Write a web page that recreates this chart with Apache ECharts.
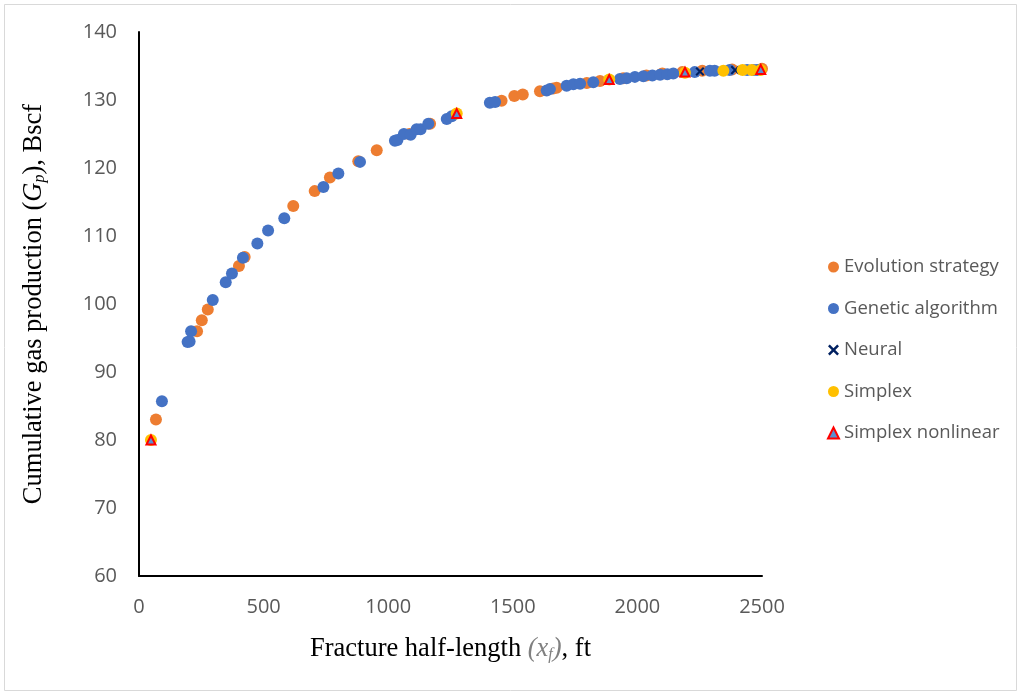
<!DOCTYPE html>
<html>
<head>
<meta charset="utf-8">
<script src="https://cdn.jsdelivr.net/npm/echarts@6/dist/echarts.min.js"></script>
<style>
  html, body { margin: 0; padding: 0; background: #fff; }
  #chart { width: 1022px; height: 695px; }
</style>
</head>
<body>
<div id="chart"></div>
<script>
// Fracture half-length (ft) vs cumulative gas production (Bscf) per optimisation method
const xTicks = [0, 500, 1000, 1500, 2000, 2500];
const yTicks = [60, 70, 80, 90, 100, 110, 120, 130, 140];

const evolutionStrategy = [
  [68, 83.0], [233, 96.0], [252, 97.6], [276, 99.2], [401, 105.6], [424, 106.9],
  [619, 114.4], [705, 116.6], [766, 118.6], [880, 121.0], [954, 122.6], [1085, 125.0],
  [1168, 126.5], [1455, 129.9], [1506, 130.6], [1540, 130.8], [1609, 131.3], [1662, 131.7],
  [1676, 131.8], [1797, 132.5], [1850, 132.8], [1943, 133.2], [2036, 133.6], [2100, 133.9],
  [2180, 134.1], [2260, 134.3], [2380, 134.5], [2500, 134.6]
];
const geneticAlgorithm = [
  [92, 85.7], [195, 94.4], [203, 94.5], [209, 96.0], [296, 100.6], [348, 103.2],
  [373, 104.5], [417, 106.8], [475, 108.9], [518, 110.8], [583, 112.6], [740, 117.2],
  [800, 119.2], [887, 120.9], [1027, 124.0], [1037, 124.1], [1063, 125.0], [1090, 124.9],
  [1114, 125.7], [1130, 125.7], [1161, 126.5], [1235, 127.2], [1255, 127.6], [1408, 129.6],
  [1429, 129.7], [1636, 131.4], [1649, 131.6], [1716, 132.1], [1743, 132.3], [1770, 132.4],
  [1823, 132.6], [1930, 133.1], [1957, 133.2], [1990, 133.4], [2024, 133.5], [2060, 133.6],
  [2091, 133.7], [2120, 133.8], [2144, 133.9], [2230, 134.1], [2291, 134.3], [2310, 134.3],
  [2370, 134.4], [2440, 134.4], [2465, 134.4], [2480, 134.4]
];
const neural = [[2251, 134.2], [2392, 134.4]];
const simplex = [
  [48, 80.0], [1275, 128.0], [1887, 133.0], [2191, 134.0], [2345, 134.3],
  [2422, 134.4], [2459, 134.4], [2495, 134.4]
];
const simplexNonlinear = [[48, 80.0], [1275, 128.0], [1887, 133.0], [2191, 134.1], [2495, 134.5]];

const crossPath = 'path://M0,1.6 L1.6,0 L5,3.4 L8.4,0 L10,1.6 L6.6,5 L10,8.4 L8.4,10 L5,6.6 L1.6,10 L0,8.4 L3.4,5 Z';

const chart = echarts.init(document.getElementById('chart'));
chart.setOption({
  animation: false,
  backgroundColor: '#ffffff',
  graphic: [{
    type: 'rect',
    shape: { x: 4.5, y: 4.5, width: 1012, height: 686 },
    style: { fill: 'none', stroke: '#D9D9D9', lineWidth: 1 },
    silent: true
  }],
  grid: { left: 139, right: 260, top: 32, bottom: 119 },
  xAxis: {
    type: 'value',
    min: xTicks[0], max: xTicks[xTicks.length - 1], interval: 500,
    axisLine: { show: true, onZero: false, lineStyle: { color: '#000', width: 2 } },
    axisTick: { show: false },
    splitLine: { show: false },
    axisLabel: { color: '#595959', fontSize: 20, fontFamily: 'Open Sans', margin: 21, formatter: v => String(v) },
    name: '{n|Fracture half-length }{v|(x}{s|f}{v|)}{n|, ft}',
    nameLocation: 'middle',
    nameGap: 60,
    nameTextStyle: {
      rich: {
        n: { fontFamily: 'Liberation Serif', fontSize: 26.5, color: '#000' },
        v: { fontFamily: 'Liberation Serif', fontSize: 26.5, color: '#808080', fontStyle: 'italic' },
        s: { fontFamily: 'Liberation Serif', fontSize: 16, color: '#808080', fontStyle: 'italic', verticalAlign: 'bottom', padding: [10, 0, 0, 0] }
      }
    }
  },
  yAxis: {
    type: 'value',
    min: yTicks[0], max: yTicks[yTicks.length - 1], interval: 10,
    axisLine: { show: true, onZero: false, lineStyle: { color: '#000', width: 2 } },
    axisTick: { show: false },
    splitLine: { show: false },
    axisLabel: { color: '#595959', fontSize: 20, fontFamily: 'Open Sans', margin: 22 },
    name: '{n|Cumulative gas production (}{v|G}{s|p}{n|), Bscf}',
    nameLocation: 'middle',
    nameGap: 91,
    nameTextStyle: {
      rich: {
        n: { fontFamily: 'Liberation Serif', fontSize: 26.5, color: '#000' },
        v: { fontFamily: 'Liberation Serif', fontSize: 26.5, color: '#000', fontStyle: 'italic' },
        s: { fontFamily: 'Liberation Serif', fontSize: 16, color: '#000', fontStyle: 'italic', verticalAlign: 'bottom', padding: [10, 0, 0, 0] }
      }
    }
  },
  legend: {
    orient: 'vertical',
    left: 822,
    top: 251,
    itemWidth: 11,
    itemHeight: 11,
    itemGap: 19.5,
    textStyle: { color: '#595959', fontSize: 18.5, fontFamily: 'Open Sans', lineHeight: 22 },
    data: ['Evolution strategy', 'Genetic algorithm', 'Neural', 'Simplex', 'Simplex nonlinear']
  },
  series: [
    {
      name: 'Evolution strategy', type: 'scatter', data: evolutionStrategy,
      symbol: 'circle', symbolSize: 12, itemStyle: { color: '#ED7D31', opacity: 1 }
    },
    {
      name: 'Genetic algorithm', type: 'scatter', data: geneticAlgorithm,
      symbol: 'circle', symbolSize: 12, itemStyle: { color: '#4472C4', opacity: 1 }
    },
    {
      name: 'Neural', type: 'scatter', data: neural,
      symbol: crossPath, symbolSize: 9, itemStyle: { color: '#002060', opacity: 1 }
    },
    {
      name: 'Simplex', type: 'scatter', data: simplex,
      symbol: 'circle', symbolSize: 12, itemStyle: { color: '#FFC000', opacity: 1 }
    },
    {
      name: 'Simplex nonlinear', type: 'scatter', data: simplexNonlinear,
      symbol: 'triangle', symbolSize: 9,
      itemStyle: { color: '#5B8FD0', borderColor: '#FF0000', borderWidth: 2, opacity: 1 }
    }
  ]
});
</script>
</body>
</html>
